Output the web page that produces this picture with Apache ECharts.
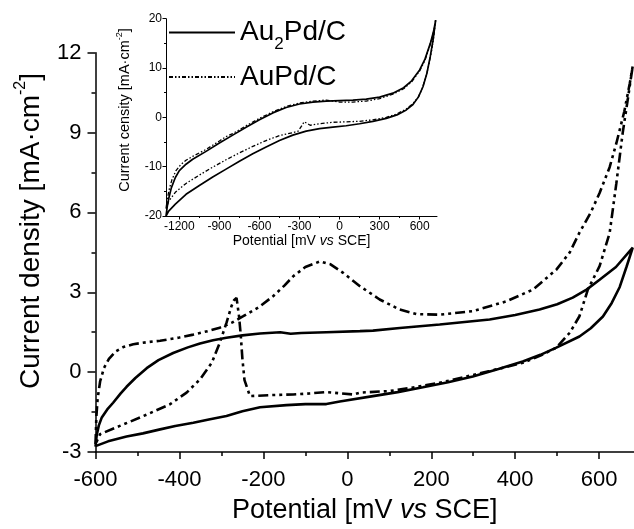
<!DOCTYPE html>
<html><head><meta charset="utf-8">
<script src="https://cdn.jsdelivr.net/npm/echarts@6/dist/echarts.min.js"></script>
<style>html,body{margin:0;padding:0;background:#fff}#c{width:634px;height:529px}</style>
</head><body><div id="c"></div>
<script>
// ---------- data ----------
const seriesNames = ['Au2Pd/C', 'AuPd/C'];

// main plot: potential (mV vs SCE), current density (mA cm-2), closed CV loops
const mainAu2PdC = [
  [-600,-2.8],[-597,-2.35],[-592,-2.0],[-585,-1.7],[-572,-1.4],[-558,-1.15],[-540,-0.8],[-526,-0.55],[-505,-0.22],[-478,0.15],[-450,0.45],[-415,0.72],[-380,0.93],[-351,1.08],[-320,1.2],[-288,1.29],[-250,1.38],[-208,1.45],[-160,1.5],[-135,1.44],[-110,1.47],[-50,1.5],[30,1.54],[61,1.56],[125,1.66],[220,1.79],[339,1.98],[400,2.15],[458,2.35],[500,2.55],[537,2.8],[570,3.1],[601,3.47],[640,3.95],[680,4.68],
  [665,3.95],[649,3.2],[630,2.6],[609,2.09],[580,1.65],[553,1.34],[498,0.92],[460,0.65],[418,0.4],[360,0.12],[299,-0.16],[240,-0.38],[180,-0.57],[120,-0.75],[61,-0.9],[-18,-1.1],[-50,-1.2],[-100,-1.2],[-145,-1.24],[-208,-1.32],[-250,-1.47],[-288,-1.65],[-330,-1.78],[-367,-1.9],[-410,-2.02],[-446,-2.15],[-487,-2.3],[-526,-2.42],[-570,-2.6],[-600,-2.78]
];
const mainAuPdC = [
  [-600,-2.7],[-598,-1.7],[-595,-1.0],[-589,-0.35],[-580,0.15],[-568,0.5],[-552,0.78],[-534,0.94],[-510,1.05],[-480,1.12],[-446,1.18],[-400,1.3],[-367,1.41],[-330,1.55],[-304,1.67],[-275,1.86],[-248,2.1],[-210,2.45],[-177,2.85],[-150,3.25],[-129,3.6],[-100,3.95],[-65,4.16],[-40,4.05],[-10,3.73],[30,3.23],[77,2.73],[125,2.35],[165,2.18],[220,2.16],[299,2.29],[379,2.66],[442,3.1],[498,3.85],[530,4.5],[553,5.24],[580,6.0],[601,6.73],[625,7.7],[641,8.6],[660,9.8],[673,10.85],[680,11.5],
  [668,10.23],[656,8.98],[641,7.1],[625,5.23],[601,3.98],[573,3.1],[553,2.1],[530,1.48],[498,0.92],[460,0.62],[418,0.35],[339,0.04],[280,-0.18],[220,-0.4],[160,-0.57],[101,-0.71],[30,-0.77],[14,-0.84],[-50,-0.75],[-90,-0.8],[-129,-0.84],[-180,-0.86],[-232,-0.9],[-245,-0.3],[-250,0.5],[-254,1.4],[-258,2.1],[-264,2.79],[-270,2.7],[-276,2.48],[-288,1.85],[-304,1.1],[-323,0.35],[-351,-0.27],[-383,-0.77],[-423,-1.21],[-486,-1.65],[-542,-2.02],[-589,-2.33],[-600,-2.7]
];

// inset plot: wider potential window
const insetAu2PdC = [
  [-1300,-20],[-1290,-18],[-1280,-16.5],[-1260,-14.3],[-1230,-12.2],[-1200,-10.8],[-1150,-9.5],[-1100,-8.5],[-1000,-6.9],[-900,-5.2],[-800,-3.6],[-700,-2.0],[-600,-0.5],[-500,0.9],[-400,2.0],[-300,2.7],[-200,3.1],[-100,3.3],[0,3.4],[100,3.5],[200,3.7],[300,4.1],[400,4.9],[480,6.0],[540,7.4],[600,9.6],[640,11.8],[680,15.0],[705,17.5],[720,19.7],
  [700,15.6],[680,12.4],[655,9.0],[625,6.2],[590,4.1],[550,2.6],[500,1.5],[430,0.5],[350,-0.2],[250,-0.8],[150,-1.3],[50,-1.7],[-50,-2.0],[-150,-2.3],[-250,-2.8],[-350,-3.6],[-450,-4.7],[-550,-6.0],[-650,-7.4],[-750,-8.9],[-850,-10.5],[-950,-12.1],[-1050,-13.8],[-1150,-15.6],[-1230,-17.6],[-1280,-19.0],[-1300,-20]
];
const insetAuPdC = [
  [-1300,-18.5],[-1290,-16.5],[-1275,-14.5],[-1255,-12.6],[-1225,-10.8],[-1190,-9.6],[-1150,-8.7],[-1100,-7.9],[-1000,-6.5],[-900,-4.8],[-850,-3.9],[-800,-3.3],[-700,-1.7],[-600,-0.2],[-500,1.1],[-400,2.2],[-300,2.9],[-200,3.3],[-100,3.5],[0,3.1],[100,3.1],[200,3.3],[300,3.8],[400,4.7],[480,5.8],[540,7.2],[600,9.4],[640,11.6],[680,14.8],[705,17.4],[720,19.7],
  [705,16.2],[690,13.6],[670,10.8],[650,8.5],[620,5.9],[590,4.1],[550,2.8],[500,1.7],[430,0.7],[350,0.0],[250,-0.5],[150,-0.8],[50,-0.9],[-50,-1.0],[-150,-1.3],[-220,-1.6],[-245,-1.2],[-265,-0.9],[-285,-1.8],[-310,-2.8],[-350,-3.1],[-450,-3.7],[-550,-4.7],[-650,-5.9],[-750,-7.2],[-850,-8.6],[-950,-10.1],[-1050,-11.7],[-1150,-13.4],[-1230,-15.2],[-1280,-17.0],[-1300,-18.5]
];

// ticks
const mainXTicks = [-600,-400,-200,0,200,400,600];
const mainXMinor = [-500,-300,-100,100,300,500];
const mainYTicks = [-3,0,3,6,9,12];
const mainYMinor = [-1.5,1.5,4.5,7.5,10.5];
const insetXTicks = [-1200,-900,-600,-300,0,300,600];
const insetXMinor = [-1050,-750,-450,-150,150,450];
const insetYTicks = [-20,-10,0,10,20];
const insetYMinor = [-15,-5,5,15];

// ---------- chart ----------
const FONT = '"Liberation Sans", Arial, sans-serif';
const chart = echarts.init(document.getElementById('c'), null, {renderer: 'canvas'});

function majorAxis(dim, grid, min, max, ticks, o) {
  return {
    type: 'value', gridIndex: grid, position: dim === 'x' ? 'bottom' : 'left',
    min: min, max: max,
    axisLine: {show: true, onZero: false, lineStyle: {color: '#000', width: o.lw}},
    axisTick: {show: true, inside: false, length: o.tick, customValues: ticks, lineStyle: {color: '#000', width: o.lw}},
    axisLabel: {show: true, customValues: ticks, fontSize: o.fs, color: '#000', margin: o.margin, fontFamily: FONT,
      formatter: function (v) { return String(v); }},
    splitLine: {show: false},
    name: o.name || '', nameLocation: 'middle', nameGap: o.nameGap || 0,
    nameTextStyle: o.nameStyle || {}
  };
}
function minorAxis(dim, grid, min, max, ticks, o) {
  return {
    type: 'value', gridIndex: grid, position: dim === 'x' ? 'bottom' : 'left',
    min: min, max: max,
    axisLine: {show: false, onZero: false},
    axisTick: {show: true, inside: false, length: o.tick, customValues: ticks, lineStyle: {color: '#000', width: o.lw}},
    axisLabel: {show: false},
    splitLine: {show: false}
  };
}

const mainNameRich = {
  n: {fontSize: 27, fontFamily: FONT, color: '#000'},
  i: {fontSize: 27, fontFamily: FONT, color: '#000', fontStyle: 'italic'}
};
const insetNameRich = {
  n: {fontSize: 14, fontFamily: FONT, color: '#000'},
  i: {fontSize: 14, fontFamily: FONT, color: '#000', fontStyle: 'italic'}
};

const legendRich = {
  a: {fontSize: 28, fontFamily: FONT, color: '#000', lineHeight: 30},
  s: {fontSize: 17, fontFamily: FONT, color: '#000', lineHeight: 18, padding: [24, 0, 0, 0]}
};

const option = {
  animation: false,
  backgroundColor: '#fff',
  textStyle: {fontFamily: FONT},
  grid: [
    {left: 95.5, top: 52.7, width: 538.5, height: 400, containLabel: false},
    {left: 166, top: 18.7, width: 271, height: 197.3, containLabel: false}
  ],
  xAxis: [
    majorAxis('x', 0, -600, 683, mainXTicks, {lw: 1.5, tick: 7, fs: 22, margin: 17,
      name: '{n|Potential [mV }{i|vs}{n| SCE]}', nameGap: 45, nameStyle: {rich: mainNameRich}}),
    minorAxis('x', 0, -600, 683, mainXMinor, {lw: 1.5, tick: 4}),
    majorAxis('x', 1, -1300, 730, insetXTicks, {lw: 1, tick: 3.5, fs: 12, margin: 5,
      name: '{n|Potential [mV }{i|vs}{n| SCE]}', nameGap: 18, nameStyle: {rich: insetNameRich}}),
    minorAxis('x', 1, -1300, 730, insetXMinor, {lw: 1, tick: 2})
  ],
  yAxis: [
    majorAxis('y', 0, -3, 12, mainYTicks, {lw: 1.5, tick: 8, fs: 22, margin: 14}),
    minorAxis('y', 0, -3, 12, mainYMinor, {lw: 1.5, tick: 4}),
    majorAxis('y', 1, -20, 20, insetYTicks, {lw: 1, tick: 3.5, fs: 12, margin: 4}),
    minorAxis('y', 1, -20, 20, insetYMinor, {lw: 1, tick: 2})
  ],
  legend: [
    {data: [seriesNames[0]], left: 168, top: 12, padding: 0, itemWidth: 66, itemHeight: 12,
     itemStyle: {opacity: 0}, lineStyle: {width: 2},
     formatter: '{a|Au}{s|2}{a|Pd/C}', textStyle: {rich: legendRich}, selectedMode: false},
    {data: [seriesNames[1]], left: 168, top: 63, padding: 0, itemWidth: 66, itemHeight: 12,
     itemStyle: {opacity: 0}, lineStyle: {width: 2},
     formatter: '{a|AuPd/C}', textStyle: {rich: legendRich}, selectedMode: false}
  ],
  graphic: [
    {type: 'text', x: 31, y: 231, rotation: Math.PI / 2,
     style: {text: '{n|Current density [mA·cm}{s|-2}{n|]}', align: 'center', verticalAlign: 'middle',
       rich: {n: {fontSize: 28, fontFamily: FONT, fill: '#000', color: '#000'},
              s: {fontSize: 16, fontFamily: FONT, fill: '#000', color: '#000', padding: [0, 0, 20, 0]}}}},
    {type: 'text', x: 125, y: 110, rotation: Math.PI / 2,
     style: {text: '{n|Current censity [mA·cm}{s|-2}{n|]}', align: 'center', verticalAlign: 'middle',
       rich: {n: {fontSize: 14.5, fontFamily: FONT, fill: '#000', color: '#000'},
              s: {fontSize: 9, fontFamily: FONT, fill: '#000', color: '#000', padding: [0, 0, 10, 0]}}}}
  ],
  series: [
    {type: 'line', name: seriesNames[0], xAxisIndex: 2, yAxisIndex: 2, data: insetAu2PdC,
     symbol: 'none', showSymbol: false, lineStyle: {color: '#000', width: 1.7}, itemStyle: {color: '#000'}},
    {type: 'line', name: seriesNames[1], xAxisIndex: 2, yAxisIndex: 2, data: insetAuPdC,
     symbol: 'none', showSymbol: false, lineStyle: {color: '#000', width: 1.3, type: [4, 2, 1.5, 2, 1.5, 2]}, itemStyle: {color: '#000'}},
    {type: 'line', name: seriesNames[0], xAxisIndex: 0, yAxisIndex: 0, data: mainAu2PdC,
     symbol: 'none', showSymbol: false, lineStyle: {color: '#000', width: 2.6}, itemStyle: {color: '#000'}},
    {type: 'line', name: seriesNames[1], xAxisIndex: 0, yAxisIndex: 0, data: mainAuPdC,
     symbol: 'none', showSymbol: false, lineStyle: {color: '#000', width: 2.6, type: [10, 4, 3, 4, 3, 4]}, itemStyle: {color: '#000'}}
  ]
};
chart.setOption(option);
</script>
</body></html>
